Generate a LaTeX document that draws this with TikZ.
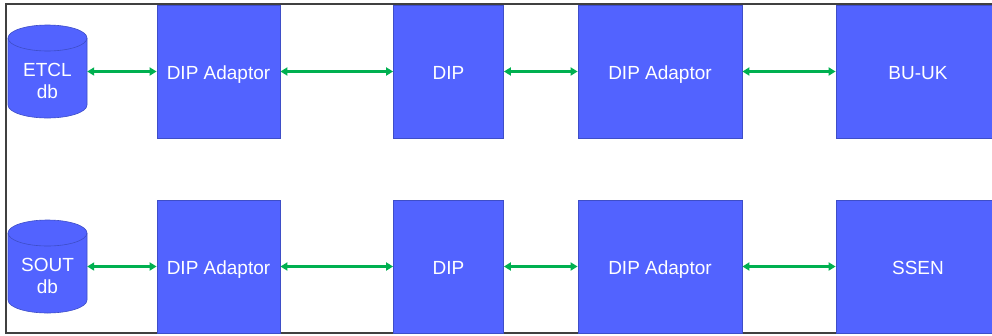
\documentclass[tikz,border=0pt]{standalone}
\usepackage{fontspec}
\setmainfont{Liberation Sans}
\usetikzlibrary{arrows.meta}

\definecolor{boxblue}{RGB}{82,99,255}
\definecolor{edgeblue}{RGB}{62,78,200}
\definecolor{linkgreen}{RGB}{0,176,80}

\begin{document}
\begin{tikzpicture}[x=1pt, y=-1pt, font=\fontsize{19}{22}\selectfont,
    unit/.style={draw=edgeblue, fill=boxblue, line width=0.8pt, text=white, minimum height=133pt, inner sep=0pt, text height=15.6pt, text depth=0pt},
    store/.style={minimum width=79pt, minimum height=93pt, inner sep=0pt},
    link/.style={{Triangle[length=7pt,width=8pt]}-{Triangle[length=7pt,width=8pt]}, linkgreen, line width=2.2pt}]
    \useasboundingbox (0,0) rectangle (992,335);
    \clip (0,0) rectangle (992,335);

    % Frame (open on the right)
    \draw[line width=2pt, black!75] (1000,3.5) -- (6,3.5) -- (6,332.5) -- (1000,332.5);

    % Two chains: database -> adaptor -> DIP -> adaptor -> peer
    \foreach \r/\y/\db/\peer in {1/71.5/ETCL/BU-UK, 2/266.5/SOUT/SSEN} {
        % database drum
        \node[store] (db\r) at (47.5,\y) {};
        \filldraw[fill=boxblue, draw=edgeblue, line width=0.6pt]
            (8,\y-33.5) -- (8,\y+33.5) arc[start angle=180, end angle=0, x radius=39.5, y radius=13]
            -- (87,\y-33.5) arc[start angle=0, end angle=-180, x radius=39.5, y radius=13] -- cycle;
        \draw[edgeblue, line width=0.6pt] (8,\y-33.5) arc[start angle=180, end angle=0, x radius=39.5, y radius=13];
        \node[text=white, align=center] (dbtext\r) at ([yshift=-9pt]db\r.center) {\db\\db};

        \node[unit, minimum width=123pt] (adA\r) at (218.5,\y) {DIP Adaptor};
        \node[unit, minimum width=110pt] (dip\r) at (448.5,\y) {DIP};
        \node[unit, minimum width=164pt] (adB\r) at (660,\y) {DIP Adaptor};
        \node[unit, minimum width=164pt] (peer\r) at (918,\y) {\peer};

        \draw[link] (db\r.east) -- (adA\r.west);
        \draw[link] (adA\r.east) -- (dip\r.west);
        \draw[link] (dip\r.east) -- (adB\r.west);
        \draw[link] (adB\r.east) -- (peer\r.west);
    }
\end{tikzpicture}
\end{document}
